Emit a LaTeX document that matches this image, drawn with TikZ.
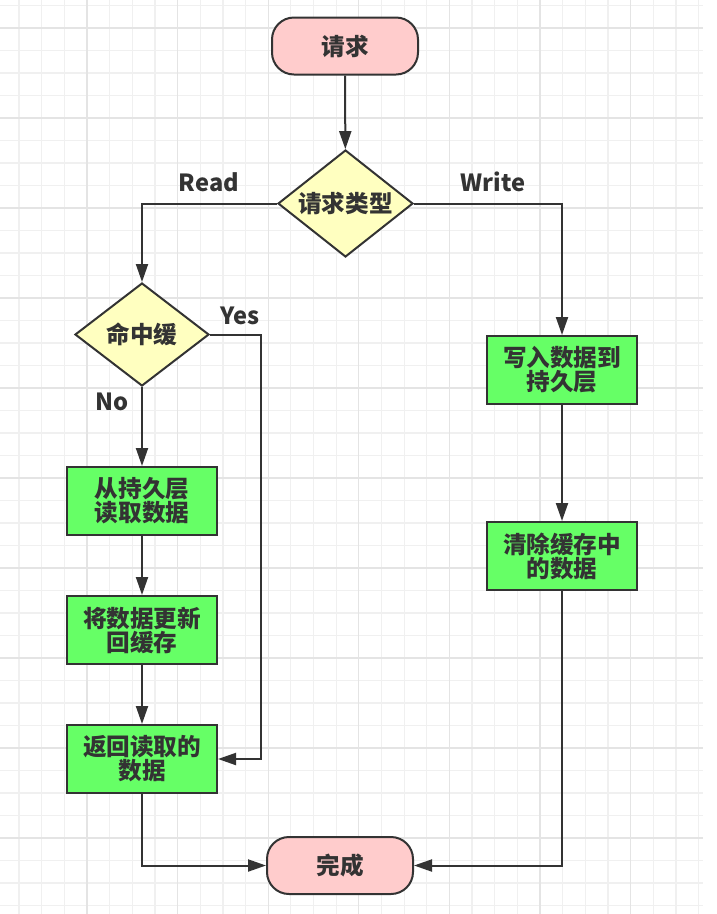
\documentclass[tikz,border=0pt]{standalone}
\usepackage{fontspec}
\setmainfont{Noto Sans CJK SC}
\usetikzlibrary{shapes.geometric,arrows.meta}

\definecolor{linegray}{HTML}{333333}
\definecolor{termpink}{HTML}{FFCCCC}
\definecolor{decyellow}{HTML}{FFFFC0}
\definecolor{procgreen}{HTML}{66FF66}
\definecolor{gridminor}{HTML}{F0F0F0}
\definecolor{gridmajor}{HTML}{E4E4E4}

\tikzset{
  every node/.style={font=\fontsize{23.6}{24}\selectfont\bfseries, text=linegray},
  terminal/.style={draw=linegray, line width=2pt, fill=termpink, rounded corners=22pt,
    minimum width=146pt, minimum height=57pt},
  decision/.style={draw=linegray, line width=2pt, fill=decyellow, diamond, aspect=1.26,
    inner sep=0pt},
  process/.style={draw=linegray, line width=2pt, fill=procgreen, align=center,
    minimum width=150pt, minimum height=68pt, inner sep=0pt},
  arr/.style={draw=linegray, line width=2pt, -{Triangle[length=18pt,width=12pt]}},
}

\begin{document}
\begin{tikzpicture}[x=1pt,y=-1pt]

\fill[white] (0,0) rectangle (716,914);
\useasboundingbox (0,0) rectangle (716,914);

\foreach \i in {1,...,31} \draw[gridminor, line width=1.2pt] ({-3.6+22.65*\i},0) -- ({-3.6+22.65*\i},914);
\foreach \j in {0,...,40} \draw[gridminor, line width=1.2pt] (0,{5.5+22.5*\j}) -- (703,{5.5+22.5*\j});
\foreach \i in {4,8,...,28} \draw[gridmajor, line width=1.2pt] ({-3.6+22.65*\i},0) -- ({-3.6+22.65*\i},914);
\foreach \j in {1,5,...,37} \draw[gridmajor, line width=1.2pt] (0,{5.5+22.5*\j}) -- (703,{5.5+22.5*\j});

\node[terminal] (req) at (345,46) {请求};
\node[decision, minimum width=135pt, minimum height=107pt] (type) at (345.5,203.5) {请求类型};
\node[decision, minimum width=134pt, minimum height=103pt] (hit) at (142,334.5) {命中缓};

\node[process] (load) at (142,501) {从持久层\\读取数据};
\node[process] (update) at (142,630) {将数据更新\\回缓存};
\node[process] (ret) at (142,759) {返回读取的\\数据};

\node[process] (write) at (562,370) {写入数据到\\持久层};
\node[process] (clear) at (562,556) {清除缓存中\\的数据};

\node[terminal] (done) at (340,865.5) {完成};

\node (read) at (209,182) {Read};
\node (wr) at (493,182) {Write};
\node (yes) at (240,316) {Yes};
\node (no) at (112,402) {No};

\draw[arr] (req) -- (type);
\draw[arr] (type.west) -| (hit.north);
\draw[arr] (type.east) -| (write.north);
\draw[arr] (hit.south) -- (load);
\draw[arr] (hit.east) -- ++(51,0) |- (ret.east);
\draw[arr] (load) -- (update);
\draw[arr] (update) -- (ret);
\draw[arr] (ret.south) |- (done.west);
\draw[arr] (write) -- (clear);
\draw[arr] (clear.south) |- (done.east);

\end{tikzpicture}
\end{document}
